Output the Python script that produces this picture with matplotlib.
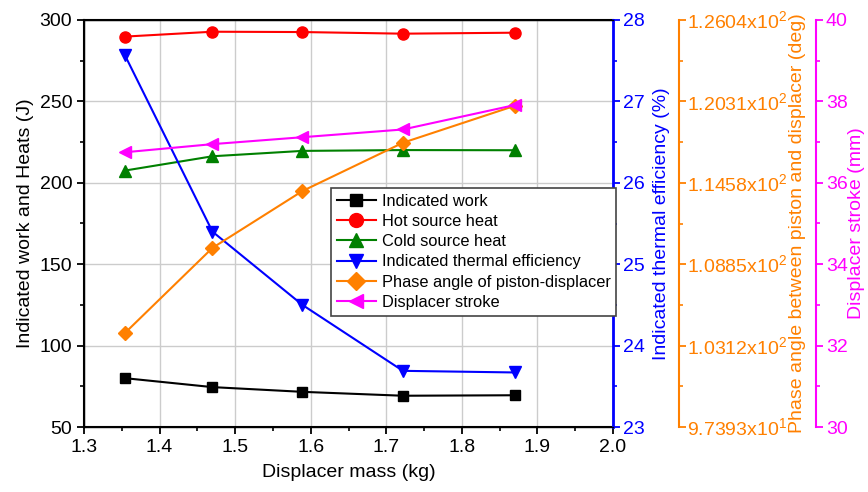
import numpy as np
import matplotlib
matplotlib.use('Agg')
from matplotlib import pyplot as plt
from matplotlib.ticker import MultipleLocator, FixedLocator

plt.rcParams['font.family'] = ['Liberation Sans', 'DejaVu Sans']
plt.rcParams['mathtext.fontset'] = 'custom'
plt.rcParams['mathtext.rm'] = 'Liberation Sans'

mass = [1.354, 1.470, 1.589, 1.722, 1.870]
work = [80.0, 74.5, 71.6, 69.2, 69.5]
hot = [289.8, 292.8, 292.6, 291.6, 292.2]
cold = [207.5, 216.3, 219.6, 220.1, 220.0]
eff = [27.57, 25.40, 24.50, 23.69, 23.67]
phase = [104.0, 110.0, 114.0, 117.4, 120.0]
stroke = [36.75, 36.95, 37.12, 37.31, 37.91]

phase_ticks = [97.393, 103.12, 108.85, 114.58, 120.31, 126.04]
phase_labels = [r'9.7393x10$^{1}$', r'1.0312x10$^{2}$', r'1.0885x10$^{2}$',
                r'1.1458x10$^{2}$', r'1.2031x10$^{2}$', r'1.2604x10$^{2}$']

BLUE = '#0000FF'
ORANGE = '#FF8000'
MAGENTA = '#FF00FF'
FS = 14

fig = plt.figure(figsize=(8.68, 4.92), dpi=100)
ax = fig.add_axes([84 / 868, 65 / 492, 529 / 868, 407 / 492])
ax2 = ax.twinx()
ax3 = ax.twinx()
ax4 = ax.twinx()
ax3.spines['right'].set_position(('axes', (679 - 84) / 529))
ax4.spines['right'].set_position(('axes', (816 - 84) / 529))

kw = dict(lw=1.5, ms=8, clip_on=False)
h1, = ax.plot(mass, work, 's-', color='black', label='Indicated work', ms=7, lw=1.5)
h2, = ax.plot(mass, hot, 'o-', color='red', label='Hot source heat', **kw)
h3, = ax.plot(mass, cold, '^-', color='green', label='Cold source heat', **kw)
h4, = ax2.plot(mass, eff, 'v-', color=BLUE, label='Indicated thermal efficiency', **kw)
h5, = ax3.plot(mass, phase, 'D-', color=ORANGE, label='Phase angle of piston-displacer',
               lw=1.5, ms=7)
h6, = ax4.plot(mass, stroke, '<-', color=MAGENTA, label='Displacer stroke', **kw)

ax.set_xlim(1.3, 2.0)
ax.set_ylim(50, 300)
ax.xaxis.set_major_locator(MultipleLocator(0.1))
ax.xaxis.set_minor_locator(MultipleLocator(0.05))
ax.yaxis.set_major_locator(MultipleLocator(50))
ax.yaxis.set_minor_locator(MultipleLocator(25))
ax.grid(True, which='major', color='#cccccc', lw=1)
ax.set_axisbelow(True)
ax.set_xlabel('Displacer mass (kg)', fontsize=FS, labelpad=6)
ax.set_ylabel('Indicated work and Heats (J)', fontsize=FS, labelpad=4)
ax.tick_params(labelsize=FS, width=1.3, length=5)
ax.tick_params(which='minor', width=1.2, length=3)
for s in ['left', 'bottom', 'top']:
    ax.spines[s].set_linewidth(1.5)

ax2.set_ylim(23, 28)
ax2.yaxis.set_major_locator(MultipleLocator(1))
ax2.yaxis.set_minor_locator(MultipleLocator(0.5))
ax2.set_ylabel('Indicated thermal efficiency (%)', fontsize=FS, color=BLUE, labelpad=6)
ax2.tick_params(labelsize=FS, colors=BLUE, width=1.3, length=5, pad=2)
ax2.tick_params(which='minor', colors=BLUE, width=1.2, length=3)
ax2.spines['right'].set_color(BLUE)
ax2.spines['right'].set_linewidth(2)

ax3.set_ylim(phase_ticks[0], phase_ticks[-1])
ax3.yaxis.set_major_locator(FixedLocator(phase_ticks))
ax3.set_yticklabels(phase_labels)
ax3.yaxis.set_minor_locator(FixedLocator(
    [(a + b) / 2 for a, b in zip(phase_ticks[:-1], phase_ticks[1:])]))
ax3.set_ylabel('Phase angle between piston and displacer (deg)', fontsize=FS,
               color=ORANGE, labelpad=1)
ax3.tick_params(labelsize=FS, colors=ORANGE, width=1.3, length=5, pad=1)
ax3.tick_params(which='minor', colors=ORANGE, width=1.2, length=3)
ax3.spines['right'].set_color(ORANGE)
ax3.spines['right'].set_linewidth(1.5)

ax4.set_ylim(30, 40)
ax4.yaxis.set_major_locator(MultipleLocator(2))
ax4.yaxis.set_minor_locator(MultipleLocator(1))
ax4.set_ylabel('Displacer stroke (mm)', fontsize=FS, color=MAGENTA, labelpad=0)
ax4.tick_params(labelsize=FS, colors=MAGENTA, width=1.3, length=5, pad=2)
ax4.tick_params(which='minor', colors=MAGENTA, width=1.2, length=3)
ax4.spines['right'].set_color(MAGENTA)
ax4.spines['right'].set_linewidth(1.5)

leg = ax4.legend(handles=[h1, h2, h3, h4, h5, h6], loc='upper left',
                 bbox_to_anchor=(331 / 868, 1 - 188 / 492), bbox_transform=fig.transFigure,
                 fontsize=11.8, fancybox=False, edgecolor='#444444', framealpha=1,
                 labelspacing=0.32, handlelength=2.4, handletextpad=0.35,
                 borderpad=0.35, borderaxespad=0, markerscale=1.25)
leg.get_frame().set_linewidth(1.2)

fig.savefig('out.png', dpi=100)
